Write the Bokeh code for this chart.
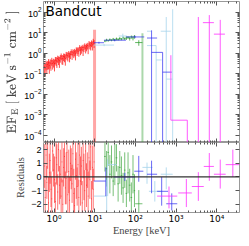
import numpy as np
from bokeh.plotting import figure
from bokeh.models import (Range1d, LogAxis, LinearAxis, Label, Span, FixedTicker,
                          CustomJSTickFormatter)
from bokeh.layouts import column
from bokeh.embed import file_html
from bokeh.resources import INLINE

# ---------------- data ----------------
# instrument 1 (red): bin edges [keV], EF_E, relative error, residuals, residual errors
red_edges = [0.56, 0.59, 0.62, 0.65, 0.68, 0.71, 0.75, 0.78, 0.82, 0.86, 0.9, 0.95, 1.0,
             1.05, 1.1, 1.15, 1.2, 1.26, 1.32, 1.39, 1.46, 1.53, 1.6, 1.68, 1.76, 1.85,
             1.94, 2.03, 2.13, 2.24, 2.35, 2.46, 2.58, 2.71, 2.84, 2.98, 3.13, 3.28, 3.44,
             3.61, 3.79, 3.97, 4.17, 4.37, 4.59, 4.81, 5.05, 5.3, 5.56, 5.83, 6.12, 6.42,
             6.73, 7.06, 7.41, 7.77, 8.15, 8.55, 8.97, 9.41, 9.87]
red_flux = [0.23, 0.19, 0.29, 0.235, 0.285, 0.34, 0.25, 0.34, 0.31, 0.42,
            0.32, 0.37, 0.31, 0.47, 0.445, 0.40, 0.55, 0.48, 0.43, 0.58,
            0.715, 0.545, 0.54, 0.69, 0.65, 0.55, 0.86, 0.78, 0.74, 0.94,
            0.72, 0.89, 1.16, 0.875, 1.12, 1.01, 1.165, 0.93, 1.45, 1.27,
            1.455, 1.245, 1.88, 1.43, 1.58, 1.90, 1.465, 1.89, 2.26, 1.77,
            2.06, 2.36, 1.80, 2.93, 2.57, 2.43, 3.08, 2.52, 3.80, 3.06]
red_ferr = [0.55, 0.6, 0.5, 0.58, 0.45, 0.52, 0.6, 0.48, 0.55, 0.42,
            0.5, 0.46, 0.58, 0.4, 0.47, 0.52, 0.38, 0.45, 0.55, 0.4,
            0.36, 0.48, 0.5, 0.4, 0.44, 0.55, 0.35, 0.42, 0.47, 0.36,
            0.5, 0.42, 0.33, 0.46, 0.38, 0.43, 0.4, 0.52, 0.34, 0.42,
            0.38, 0.46, 0.32, 0.44, 0.4, 0.35, 0.5, 0.4, 0.34, 0.45,
            0.4, 0.36, 0.5, 0.33, 0.4, 0.44, 0.36, 0.46, 0.32, 0.42]
red_resid = [0.8, -1.5, 1.6, -0.4, 2.1, -1.9, 0.3, 1.2, -0.9, -1.6,
             1.9, 0.5, -0.2, -1.8, 1.4, 0.9, -1.1, 2.0, -0.6, 0.2,
             -1.4, 1.1, -2.0, 0.7, 1.5, -0.8, -0.1, 1.8, -1.3, 0.4,
             -1.7, 1.0, 0.6, -0.5, 1.7, -1.2, -2.1, 1.3, 0.1, -0.7,
             0.9, -1.5, 1.6, -0.3, 0.8, -1.9, 1.2, 0.0, -1.0, 1.9,
             -0.6, 0.5, -1.4, 1.4, -0.2, 2.2, -1.6, 0.7, -0.9, 1.1]
red_rerr = [1.6, 1.3, 1.8, 1.2, 1.5, 1.9, 1.4, 1.7, 1.3, 1.6,
            1.5, 1.2, 1.7, 1.4, 1.9, 1.5, 1.3, 1.6, 1.4, 1.8,
            1.3, 1.5, 1.8, 1.4, 1.6, 1.2, 1.9, 1.5, 1.4, 1.6,
            1.7, 1.3, 1.5, 1.4, 1.6, 1.8, 1.3, 1.5, 1.7, 1.4,
            1.6, 1.3, 1.5, 1.8, 1.4, 1.6, 1.3, 1.7, 1.5, 1.4,
            1.6, 1.3, 1.8, 1.5, 1.4, 1.7, 1.3, 1.6, 1.5, 1.4]
red_cut_e, red_cut_top = 9.9, 14.0

# instrument 2 (green)
green_edges = [17, 18.7, 20.5, 22.5, 24.7, 27.1, 29.8, 32.7, 35.9, 39.4, 43.3,
               47.5, 52.2, 57.3, 62.9, 69.1, 75.9, 83.3, 91.5, 98.5, 149]
green_flux = [3.9, 4.4, 4.1, 4.6, 4.3, 4.8, 4.5, 5.0, 4.7, 5.2,
              4.9, 5.6, 5.1, 5.5, 5.9, 5.3, 6.2, 5.6, 6.4, 3.3]
green_ferr = [0.12, 0.15, 0.1, 0.14, 0.11, 0.16, 0.12, 0.15, 0.13, 0.17,
              0.12, 0.18, 0.14, 0.2, 0.16, 0.22, 0.18, 0.25, 0.2, 0.3]
green_resid = [1.5, 0.6, 1.8, 0.2, 1.1, -0.3, 0.9, 1.4, -0.5, 0.7,
               0.1, -0.8, 0.5, -1.2, 0.3, -0.6, -1.5, 0.2, -1.0, -1.96]
green_rerr = [1.1, 1.3, 1.0, 1.4, 1.2, 1.1, 1.5, 1.0, 1.3, 1.2,
              1.4, 1.1, 1.3, 1.0, 1.5, 1.2, 1.1, 1.4, 1.2, 1.0]
green_cut_e, green_cut_top = 149.0, 9.5

ZERO = 1e-9  # lower error reaching zero flux

# instrument 3 (blue): e_lo, e_mid, e_hi, EF_E, lower, upper
blue_elo = [9.5, 16.9, 58.6, 193, 250, 467]
blue_ec = [12.7, 31, 98, 250, 467, 467]
blue_ehi = [16.9, 58.6, 165, 342, 467, 784]
blue_v = [3.25, 4.3, 6.2, 5.5, 1.1, 0.12]
blue_vlo = [2.9, 3.8, 5.4, ZERO, ZERO, 0.12]
blue_vhi = [3.6, 4.9, 7.1, 13.0, 1.1, 0.12]
blue_relo = [9.5, 29.9, 94, 193, 342, 574]
blue_rec = [18.7, 55, 121, 250, 443, 784]
blue_rehi = [18.7, 98.5, 157, 342, 637, 1070]
blue_r = [-0.3, 0.0, 0.42, 0.2, -1.05, -1.96]
blue_rlo = [-1.4, -0.3, -0.35, -1.19, -2.1, -2.45]
blue_rhi = [0.7, 0.3, 1.54, 1.19, 0.0, -1.2]

# instrument 4 (light blue)
lblue_elo = [9.5, 38.7, 193, 193, 324, 420, 574]
lblue_ec = [17, 49, 220, 324, 400, 574, 826]
lblue_ehi = [29.9, 61.6, 250, 324, 443, 745, 826]
lblue_v = [2.49, 6.9, 11.8, 2.36, 0.47, 11.8, 0.055]
lblue_vlo = [2.2, 5.0, 11.8, ZERO, 0.47, ZERO, ZERO]
lblue_vhi = [2.8, 9.0, 11.8, 2.36, 0.47, 58.0, 138.0]
lblue_relo = [9.5, 20.8, 149, 215, 420]
lblue_rec = [19.7, 20.8, 193, 300, 574]
lblue_rehi = [19.7, 34.8, 265, 420, 826]
lblue_r = [-1.4, 0.9, 0.7, -1.05, 0.2]
lblue_rlo = [-2.6, -1.4, -0.5, -1.8, -0.9]
lblue_rhi = [-0.2, 1.3, 1.05, -0.3, 0.7]

# instrument 5 (magenta)
mag_elo = [745, 1890, 3530, 4570, 8520]
mag_ec = [745, 1890, 3530, 6570, 12200]
mag_ehi = [1890, 1890, 3530, 8520, 15900]
mag_v = [5.5e-4, 5.5e-4, 58.0, 30.8, 8.5]
mag_vlo = [5.5e-4, ZERO, ZERO, ZERO, ZERO]
mag_vhi = [0.8, 5.5e-4, 58.0, 72.0, 42.0]
mag_relo = [342, 1130, 2440, 4800, 8520, 16600]
mag_rec = [670, 1790, 3530, 6570, 12200, 24900]
mag_rehi = [1070, 2440, 4800, 8520, 16600, 36000]
mag_r = [-1.4, -1.17, -0.7, 0.77, 0.2, 0.9]
mag_rlo = [-2.3, -2.2, -1.75, -0.28, -0.85, 0.0]
mag_rhi = [-0.7, -0.15, 0.35, 1.75, 1.27, 2.0]

x_lim = (0.55, 36300)
y_lim = (4.5e-5, 330)
r_lim = (-2.6, 2.52)
x_ticks = [1, 10, 100, 1000, 10000]
y_ticks = [1e-4, 1e-3, 1e-2, 1e-1, 1, 10, 100]
r_ticks = [-2, -1, 0, 1, 2]

# ---------------- styling ----------------
RED, GREEN, BLUE, LBLUE, MAG = "#ff0000", "#2e9e2e", "#2b2bf0", "#a9d6ec", "#ff30ff"
TICK_FONT = "Liberation Sans"
LAB_FONT = "Liberation Serif"
LEFT, RIGHT = 31, 2

xr = Range1d(*x_lim)
y_minor = [m * d for d in y_ticks[:-1] + [1000] for m in range(2, 10)]
x_minor = [m * d for d in [0.1] + x_ticks for m in range(2, 10)]
BLANK = "return '';"
SUPER = """
const sup = {'-': '\\u207b', '0': '\\u2070', '1': '\\u00b9', '2': '\\u00b2', '3': '\\u00b3',
             '4': '\\u2074', '5': '\\u2075', '6': '\\u2076', '7': '\\u2077', '8': '\\u2078',
             '9': '\\u2079'};
const e = Math.round(Math.log10(tick));
return '10' + String(e).split('').map(c => sup[c]).join('');
"""


def style_axis(ax, labels=True):
    ax.axis_line_color = None
    ax.major_tick_in = 4
    ax.major_tick_out = 0
    ax.minor_tick_in = 2
    ax.minor_tick_out = 0
    ax.major_tick_line_color = "#555555"
    ax.minor_tick_line_color = "#555555"
    ax.major_label_text_font = TICK_FONT
    ax.major_label_text_font_size = "9px"
    ax.major_label_text_color = "black"
    ax.major_label_standoff = 2
    if not labels:
        ax.formatter = CustomJSTickFormatter(code=BLANK)
        ax.major_label_text_font_size = "1px"
        ax.major_label_standoff = 0


def crosses(p, elo, ec, ehi, v, vlo, vhi, color, alpha=0.75, width=1.0):
    p.segment(x0=elo, y0=v, x1=ehi, y1=v, line_color=color, line_alpha=alpha, line_width=width)
    p.segment(x0=ec, y0=vlo, x1=ec, y1=vhi, line_color=color, line_alpha=alpha, line_width=width)


# ---------------- top panel ----------------
p1 = figure(width=241, height=142, x_axis_type="log", y_axis_type="log",
            x_range=xr, y_range=Range1d(*y_lim), output_backend="svg",
            toolbar_location=None, min_border_left=LEFT, min_border_right=RIGHT,
            min_border_top=1, min_border_bottom=0)
p1.grid.visible = False
p1.outline_line_color = "#999999"
p1.outline_line_width = 1
style_axis(p1.xaxis[0], labels=False)
p1.xaxis[0].ticker = FixedTicker(ticks=x_ticks, minor_ticks=x_minor)
style_axis(p1.yaxis[0])
p1.yaxis[0].ticker = FixedTicker(ticks=y_ticks, minor_ticks=y_minor)
p1.yaxis[0].axis_label = r"$$\mathrm{EF_E\ [\ keV\ s^{-1}\ cm^{-2}\ ]}$$"
p1.yaxis[0].axis_label_text_font_size = "10px"
p1.yaxis[0].axis_label_standoff = 2
ax_top = LogAxis(ticker=FixedTicker(ticks=x_ticks, minor_ticks=x_minor))
style_axis(ax_top, labels=False)
p1.add_layout(ax_top, "above")
ax_right = LogAxis(ticker=FixedTicker(ticks=y_ticks, minor_ticks=y_minor))
style_axis(ax_right, labels=False)
p1.add_layout(ax_right, "right")

# red
red_lo = np.array(red_edges[:-1])
red_hi = np.array(red_edges[1:])
red_c = np.sqrt(red_lo * red_hi)
rf = np.array(red_flux)
re_ = np.array(red_ferr)
p1.segment(x0=[red_cut_e], y0=[ZERO], x1=[red_cut_e], y1=[red_cut_top],
           line_color=RED, line_alpha=0.35, line_width=3)
crosses(p1, red_lo, red_c, red_hi, rf, rf * (1 - re_), rf * (1 + re_), RED, alpha=0.7)

# green
g_lo = np.array(green_edges[:-1])
g_hi = np.array(green_edges[1:])
g_c = np.sqrt(g_lo * g_hi)
gf = np.array(green_flux)
ge = np.array(green_ferr)
p1.segment(x0=[green_cut_e], y0=[ZERO], x1=[green_cut_e], y1=[green_cut_top],
           line_color=GREEN, line_alpha=0.4, line_width=2)
crosses(p1, g_lo, g_c, g_hi, gf, gf * (1 - ge), gf * (1 + ge), GREEN)

crosses(p1, lblue_elo, lblue_ec, lblue_ehi, lblue_v, lblue_vlo, lblue_vhi, LBLUE, alpha=0.8)
crosses(p1, blue_elo, blue_ec, blue_ehi, blue_v, blue_vlo, blue_vhi, BLUE, alpha=0.7)
crosses(p1, mag_elo, mag_ec, mag_ehi, mag_v, mag_vlo, mag_vhi, MAG, alpha=0.8)

p1.add_layout(Label(x=x_lim[0], y=y_lim[1], x_offset=2, y_offset=-1, text="Bandcut",
                    text_font="DejaVu Sans", text_font_size="13.5px",
                    text_baseline="top", text_align="left", text_color="black"))

# ---------------- residual panel ----------------
p2 = figure(width=241, height=96, x_axis_type="log",
            x_range=xr, y_range=Range1d(*r_lim), output_backend="svg",
            toolbar_location=None, min_border_left=LEFT, min_border_right=RIGHT,
            min_border_top=0, min_border_bottom=0)
p2.grid.visible = False
p2.outline_line_color = "#999999"
p2.outline_line_width = 1
style_axis(p2.xaxis[0])
style_axis(p2.yaxis[0])
p2.xaxis[0].ticker = FixedTicker(ticks=x_ticks, minor_ticks=x_minor)
p2.xaxis[0].formatter = CustomJSTickFormatter(code=SUPER)
p2.xaxis[0].major_label_text_font = "DejaVu Sans"
p2.xaxis[0].major_label_standoff = 1
p2.xaxis[0].axis_label = "Energy [keV]"
p2.xaxis[0].axis_label_text_font = LAB_FONT
p2.xaxis[0].axis_label_text_font_style = "normal"
p2.xaxis[0].axis_label_text_font_size = "10.5px"
p2.xaxis[0].axis_label_standoff = -2
p2.yaxis[0].ticker = FixedTicker(ticks=r_ticks)
p2.yaxis[0].formatter = CustomJSTickFormatter(
    code="return (tick < 0 ? '\\u2212' : '') + Math.abs(tick).toString();")
p2.yaxis[0].axis_label = "Residuals"
p2.yaxis[0].axis_label_text_font = LAB_FONT
p2.yaxis[0].axis_label_text_font_style = "normal"
p2.yaxis[0].axis_label_text_font_size = "10.5px"
p2.yaxis[0].axis_label_standoff = 2
ax_top2 = LogAxis(ticker=FixedTicker(ticks=x_ticks, minor_ticks=x_minor))
style_axis(ax_top2, labels=False)
p2.add_layout(ax_top2, "above")
ax_right2 = LinearAxis(ticker=FixedTicker(ticks=r_ticks))
style_axis(ax_right2, labels=False)
p2.add_layout(ax_right2, "right")

rr = np.array(red_resid)
rre = np.array(red_rerr)
crosses(p2, red_lo, red_c, red_hi, rr, rr - rre, rr + rre, RED, alpha=0.55)
gr = np.array(green_resid)
gre = np.array(green_rerr)
crosses(p2, g_lo, g_c, g_hi, gr, gr - gre, gr + gre, GREEN, alpha=0.65)
crosses(p2, lblue_relo, lblue_rec, lblue_rehi, lblue_r, lblue_rlo, lblue_rhi, LBLUE, alpha=0.85)
crosses(p2, blue_relo, blue_rec, blue_rehi, blue_r, blue_rlo, blue_rhi, BLUE, alpha=0.7)
crosses(p2, mag_relo, mag_rec, mag_rehi, mag_r, mag_rlo, mag_rhi, MAG, alpha=0.8)

p2.add_layout(Span(location=0, dimension="width", line_color="#333333", line_width=1.3))

layout = column(p1, p2, spacing=0)
open("out.html", "w").write(file_html(layout, INLINE))
